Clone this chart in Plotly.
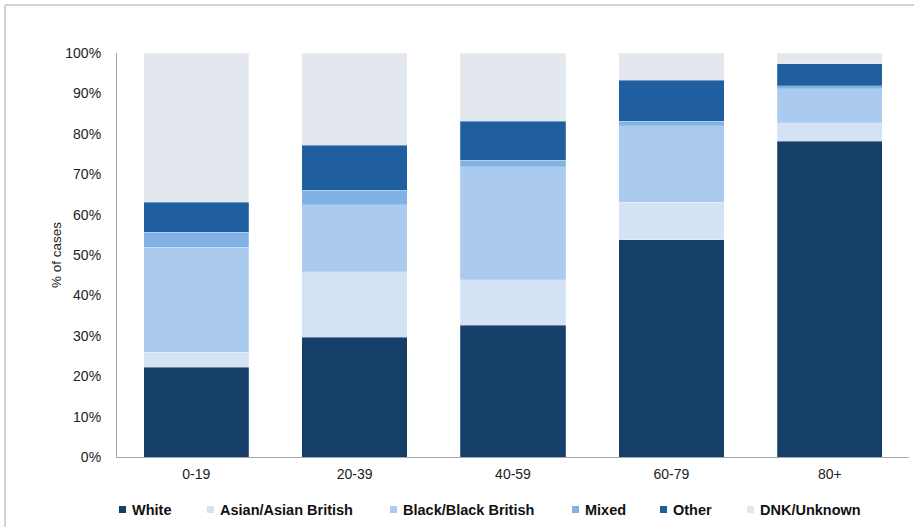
import plotly.graph_objects as go

# Age bands and ethnicity breakdown (% of cases)
age_bands = ["0-19", "20-39", "40-59", "60-79", "80+"]
series_names = ["White", "Asian/Asian British", "Black/Black British",
                "Mixed", "Other", "DNK/Unknown"]
white = [22.2, 29.6, 32.6, 53.8, 78.2]
asian = [3.7, 16.3, 11.3, 9.3, 4.5]
black = [26.0, 16.6, 28.0, 18.9, 8.5]
mixed = [3.7, 3.5, 1.6, 1.1, 0.7]
other = [7.4, 11.2, 9.6, 10.2, 5.4]
unknown = [37.0, 22.8, 16.9, 6.7, 2.7]
y_ticks = [0, 10, 20, 30, 40, 50, 60, 70, 80, 90, 100]
y_tick_labels = [f"{v}%" for v in y_ticks]

series_values = [white, asian, black, mixed, other, unknown]
colors = ["#153F69", "#D3E3F5", "#AACBEE", "#80B2E4", "#1F5F9F", "#E3E7EE"]

W, H = 914, 527
M = dict(l=117, r=5, t=53, b=70)
PW = W - M["l"] - M["r"]
PH = H - M["t"] - M["b"]


def px_x(x):
    return (x - M["l"]) / PW


def px_y(y):
    return (H - M["b"] - y) / PH


FONT = "Liberation Sans, Arial, sans-serif"

fig = go.Figure()
for name, vals, col in zip(series_names, series_values, colors):
    fig.add_trace(go.Bar(
        x=age_bands, y=vals, name=name, showlegend=False,
        marker=dict(color=col, line=dict(width=0.6, color="rgba(255,255,255,0.35)")),
    ))

# Legend drawn as small squares with bold labels along the bottom
legend_text_x = [130, 218, 401, 583, 671, 758]
shapes = []
annotations = []
for name, col, tx in zip(series_names, colors, legend_text_x):
    shapes.append(dict(type="rect", xref="paper", yref="paper",
                       x0=px_x(tx - 11), x1=px_x(tx - 4),
                       y0=px_y(513), y1=px_y(506),
                       fillcolor=col, line=dict(width=0)))
    annotations.append(dict(text=name, xref="paper", yref="paper",
                            x=px_x(tx), y=px_y(510), xanchor="left", yanchor="middle",
                            showarrow=False,
                            font=dict(family=FONT, size=14.5, color="#111111",
                                      weight="bold")))

# Outer frame lines (top and left)
shapes.append(dict(type="line", xref="paper", yref="paper",
                   x0=px_x(5), x1=px_x(W), y0=px_y(5), y1=px_y(5),
                   line=dict(color="#C4C4C4", width=1.5)))
shapes.append(dict(type="line", xref="paper", yref="paper",
                   x0=px_x(5), x1=px_x(5), y0=px_y(5), y1=px_y(H),
                   line=dict(color="#C4C4C4", width=1.5)))

fig.update_layout(
    width=W, height=H, margin=M,
    barmode="stack", bargap=0.335,
    paper_bgcolor="white", plot_bgcolor="white",
    font=dict(family=FONT, size=14, color="#333333"),
    shapes=shapes, annotations=annotations,
    showlegend=False,
)
fig.update_xaxes(
    showline=True, linecolor="#A6A6A6", linewidth=1.2,
    showgrid=False, ticks="", ticklabelstandoff=4,
    tickfont=dict(size=14, color="#222222"),
)
fig.update_yaxes(
    range=[0, 100], tickmode="array", tickvals=y_ticks, ticktext=y_tick_labels,
    showline=True, linecolor="#A6A6A6", linewidth=1.2,
    showgrid=False, zeroline=False, ticks="", ticklabelstandoff=12,
    tickfont=dict(size=14, color="#222222"),
    title=dict(text="% of cases", standoff=0, font=dict(size=13.5, color="#222222")),
)

fig.write_html("out.html")
